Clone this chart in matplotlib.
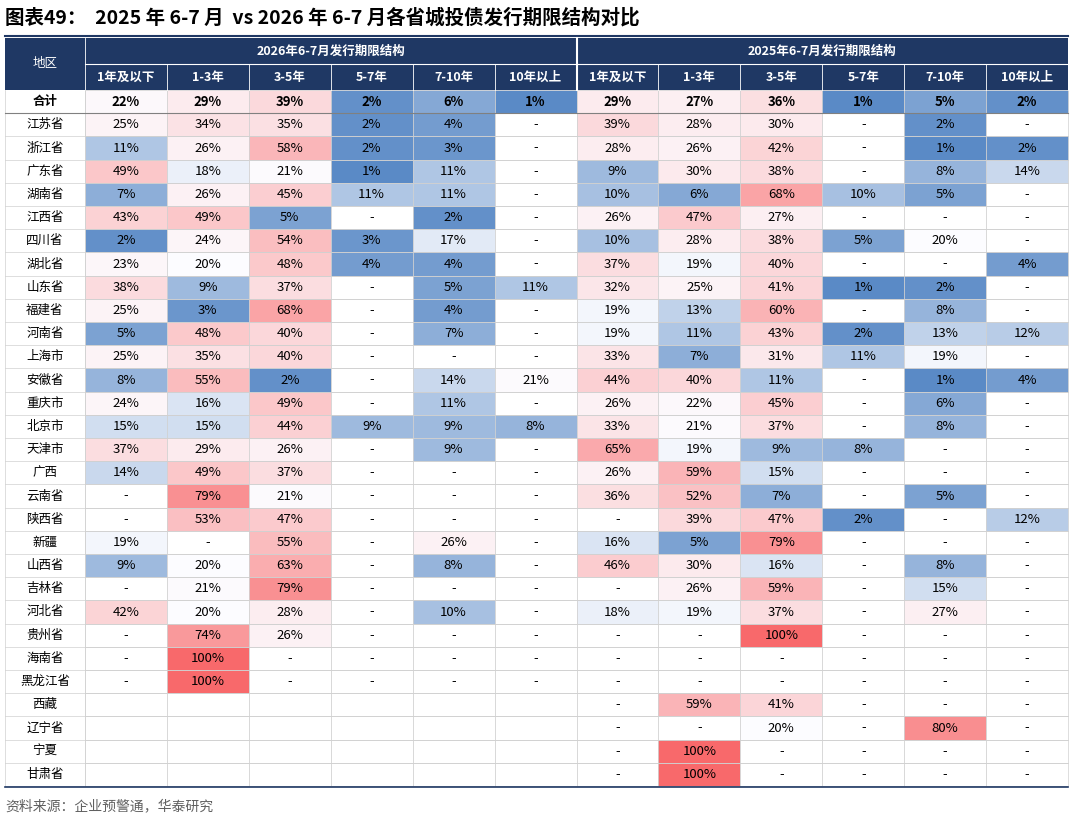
import numpy as np
import matplotlib.pyplot as plt
from matplotlib.patches import Rectangle
from matplotlib.colors import to_rgb

plt.rcParams['font.family'] = ['Noto Sans CJK SC', 'DejaVu Sans']

title = '图表49：  2025 年 6-7 月  vs 2026 年 6-7 月各省城投债发行期限结构对比'
source = '资料来源：企业预警通，华泰研究'
terms = ['1年及以下', '1-3年', '3-5年', '5-7年', '7-10年', '10年以上']
group_2026 = '2026年6-7月发行期限结构'
group_2025 = '2025年6-7月发行期限结构'

N = None
B = 'blank'
regions = ['合计', '江苏省', '浙江省', '广东省', '湖南省', '江西省', '四川省', '湖北省', '山东省',
           '福建省', '河南省', '上海市', '安徽省', '重庆市', '北京市', '天津市', '广西', '云南省',
           '陕西省', '新疆', '山西省', '吉林省', '河北省', '贵州省', '海南省', '黑龙江省',
           '西藏', '辽宁省', '宁夏', '甘肃省']
v2026 = [
    [22, 29, 39, 2, 6, 1], [25, 34, 35, 2, 4, N], [11, 26, 58, 2, 3, N], [49, 18, 21, 1, 11, N],
    [7, 26, 45, 11, 11, N], [43, 49, 5, N, 2, N], [2, 24, 54, 3, 17, N], [23, 20, 48, 4, 4, N],
    [38, 9, 37, N, 5, 11], [25, 3, 68, N, 4, N], [5, 48, 40, N, 7, N], [25, 35, 40, N, N, N],
    [8, 55, 2, N, 14, 21], [24, 16, 49, N, 11, N], [15, 15, 44, 9, 9, 8], [37, 29, 26, N, 9, N],
    [14, 49, 37, N, N, N], [N, 79, 21, N, N, N], [N, 53, 47, N, N, N], [19, N, 55, N, 26, N],
    [9, 20, 63, N, 8, N], [N, 21, 79, N, N, N], [42, 20, 28, N, 10, N], [N, 74, 26, N, N, N],
    [N, 100, N, N, N, N], [N, 100, N, N, N, N],
    [B] * 6, [B] * 6, [B] * 6, [B] * 6]
v2025 = [
    [29, 27, 36, 1, 5, 2], [39, 28, 30, N, 2, N], [28, 26, 42, N, 1, 2], [9, 30, 38, N, 8, 14],
    [10, 6, 68, 10, 5, N], [26, 47, 27, N, N, N], [10, 28, 38, 5, 20, N], [37, 19, 40, N, N, 4],
    [32, 25, 41, 1, 2, N], [19, 13, 60, N, 8, N], [19, 11, 43, 2, 13, 12], [33, 7, 31, 11, 19, N],
    [44, 40, 11, N, 1, 4], [26, 22, 45, N, 6, N], [33, 21, 37, N, 8, N], [65, 19, 9, 8, N, N],
    [26, 59, 15, N, N, N], [36, 52, 7, N, 5, N], [N, 39, 47, 2, N, 12], [16, 5, 79, N, N, N],
    [46, 30, 16, N, 8, N], [N, 26, 59, N, 15, N], [18, 19, 37, N, 27, N], [N, N, 100, N, N, N],
    [N, N, N, N, N, N], [N, N, N, N, N, N],
    [N, 59, 41, N, N, N], [N, N, 20, N, 80, N], [N, 100, N, N, N, N], [N, 100, N, N, N, N]]

blue = np.array(to_rgb('#5A8AC6'))
white = np.array(to_rgb('#FCFCFF'))
red = np.array(to_rgb('#F8696B'))
vmin, vmid, vmax = 1, 20, 100


def cell_color(v):
    if v is None or v == B:
        return 'white'
    if v <= vmid:
        t = (v - vmin) / (vmid - vmin)
        return tuple(blue + (white - blue) * t)
    t = (v - vmid) / (vmax - vmid)
    return tuple(white + (red - white) * t)


fig = plt.figure(figsize=(10.8, 8.25), dpi=100)
ax = fig.add_axes([0, 0, 1, 1])
ax.set_xlim(0, 1080)
ax.set_ylim(825, 0)
ax.axis('off')

navy = '#1F3864'
x0, x1 = 5, 1068
cw0 = 80
cw = (x1 - x0 - cw0) / 12
yh0, yh1, yd = 38, 64, 90
rh = (786 - yd) / len(regions)

ax.text(5, 18, title, fontsize=14, fontweight='bold', va='center', ha='left')
ax.plot([x0, x1], [36, 36], color=navy, lw=1.5)

# header
ax.add_patch(Rectangle((x0, yh0), x1 - x0, yd - yh0, color=navy, lw=0))
ax.text(x0 + cw0 / 2, (yh0 + yd) / 2, '地区', color='white', fontsize=9, ha='center', va='center')
for g, name in enumerate([group_2026, group_2025]):
    gx = x0 + cw0 + g * 6 * cw
    ax.text(gx + 3 * cw, (yh0 + yh1) / 2, name, color='white', fontsize=9, fontweight='bold',
            ha='center', va='center')
    for j, t in enumerate(terms):
        ax.text(gx + (j + 0.5) * cw, (yh1 + yd) / 2, t, color='white', fontsize=9,
                fontweight='bold', ha='center', va='center')
ax.plot([x0 + cw0, x1], [yh1, yh1], color='white', lw=0.8)
for k in range(13):
    xx = x0 + cw0 + k * cw
    ax.plot([xx, xx], [yh0 if k in (0, 6) else yh1, yd], color='white', lw=1.5 if k == 6 else 0.6)

# body
for i, reg in enumerate(regions):
    y = yd + i * rh
    bold = 'bold' if i == 0 else 'normal'
    ax.text(x0 + cw0 / 2, y + rh / 2, reg, fontsize=9, ha='center', va='center', fontweight=bold)
    for g, vals in enumerate([v2026[i], v2025[i]]):
        for j, v in enumerate(vals):
            cx = x0 + cw0 + (g * 6 + j) * cw
            ax.add_patch(Rectangle((cx, y), cw, rh, facecolor=cell_color(v),
                                   edgecolor='#D0D0D0', lw=0.5))
            if v == B:
                continue
            s = '-' if v is None else f'{v}%'
            ax.text(cx + cw / 2, y + rh / 2, s, fontsize=9.5, ha='center', va='center',
                    fontweight=bold)
    ax.plot([x0, x1], [y + rh, y + rh], color='#D0D0D0', lw=0.5)
ax.plot([x0, x0], [yd, 786], color='#D0D0D0', lw=0.5)
ax.plot([x0 + cw0, x0 + cw0], [yd, 786], color='#D0D0D0', lw=0.5)
ax.plot([x0, x1], [yd + rh, yd + rh], color='#808080', lw=0.8)
ax.plot([x0, x1], [787, 787], color=navy, lw=1.2)

ax.text(5, 806, source, fontsize=10, color='#606060', va='center', ha='left')

fig.savefig('out.png', dpi=100)
